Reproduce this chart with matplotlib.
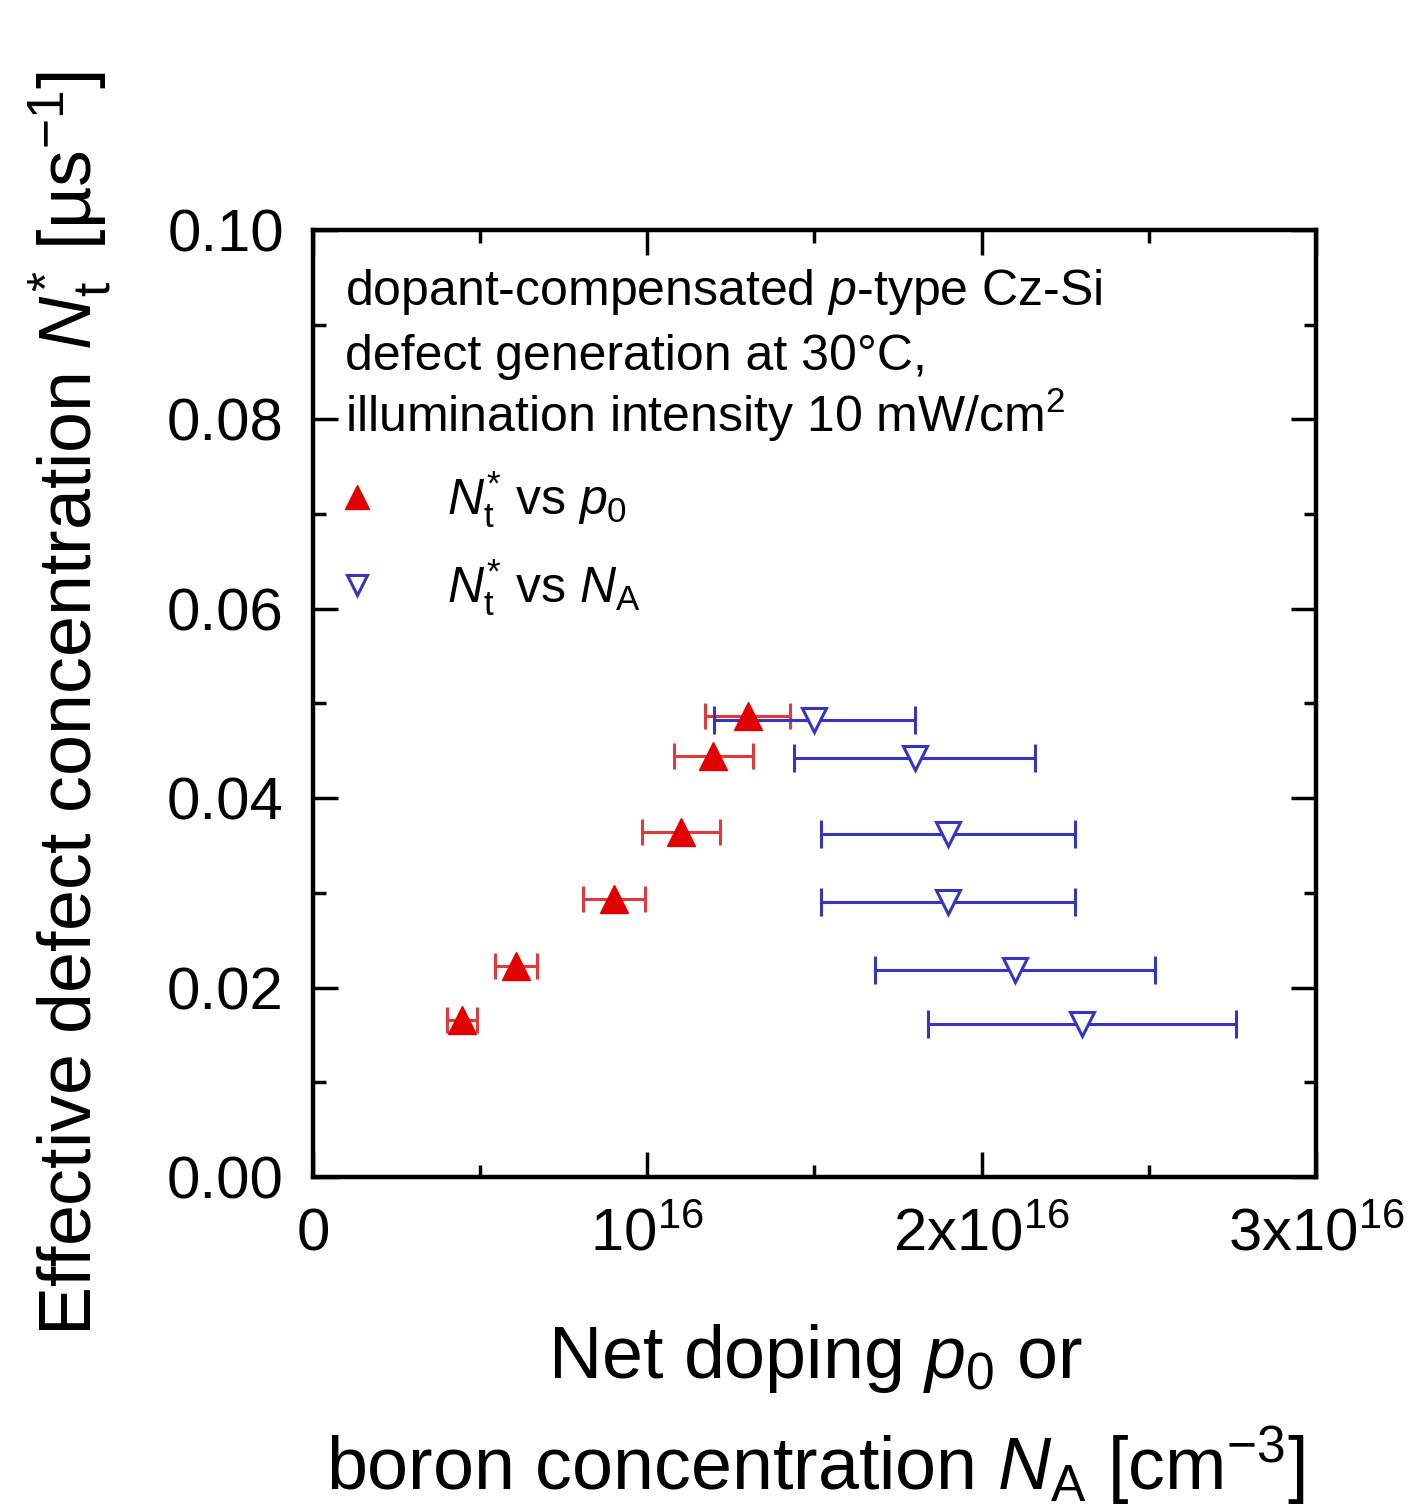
import matplotlib
matplotlib.use("Agg")
import matplotlib.pyplot as plt
import numpy as np
from matplotlib.ticker import MultipleLocator, FixedLocator, FixedFormatter

plt.rcParams['font.family'] = ['Liberation Sans', 'DejaVu Sans']
plt.rcParams['mathtext.fontset'] = 'custom'
plt.rcParams['mathtext.rm'] = 'Liberation Sans'
plt.rcParams['mathtext.it'] = 'Liberation Sans:italic'
plt.rcParams['mathtext.bf'] = 'Liberation Sans:bold'

# Data: red (N_t* vs p0) and blue (N_t* vs N_A); x in units of 1e16 cm^-3
p0 = [0.446, 0.607, 0.90, 1.10, 1.197, 1.30]
p0_err = [0.046, 0.063, 0.093, 0.117, 0.118, 0.127]
nt_p0 = [0.0166, 0.0223, 0.0294, 0.0364, 0.0445, 0.0487]

NA = [2.30, 2.10, 1.90, 1.90, 1.80, 1.50]
NA_err = [0.46, 0.42, 0.38, 0.38, 0.36, 0.30]
nt_NA = [0.0162, 0.0219, 0.0290, 0.0362, 0.0442, 0.0483]

x_ticks = [0, 1, 2, 3]
x_ticklabels = ['0', r'$10^{16}$', r'$2\mathrm{x}10^{16}$', r'$3\mathrm{x}10^{16}$']
y_ticks = [0.00, 0.02, 0.04, 0.06, 0.08, 0.10]

red = '#e00000'
red_err = '#e03a3a'
blue = '#3535c0'

fig = plt.figure(figsize=(14.18, 15.12), dpi=100)
ax = fig.add_axes([0.2207, 0.2216, 0.928 - 0.2207, 0.8479 - 0.2216])

ax.errorbar(p0, nt_p0, xerr=p0_err, fmt='none', ecolor=red_err, elinewidth=2.2,
            capsize=9.5, capthick=2.2, zorder=2)
ax.errorbar(NA, nt_NA, xerr=NA_err, fmt='none', ecolor=blue, elinewidth=2.2,
            capsize=10, capthick=2.2, zorder=2)
ax.plot(p0, nt_p0, linestyle='none', marker='^', ms=20, color=red, mec=red,
        label=r'$N_\mathrm{t}^{*}$ vs $p_0$', zorder=3)
ax.plot(NA, nt_NA, linestyle='none', marker='v', ms=17, mfc='white', mec=blue,
        mew=2.2, label=r'$N_\mathrm{t}^{*}$ vs $N_\mathrm{A}$', zorder=3)

ax.set_xlim(0, 3)
ax.set_ylim(0, 0.10)
ax.xaxis.set_major_locator(FixedLocator(x_ticks))
ax.xaxis.set_major_formatter(FixedFormatter(x_ticklabels))
ax.xaxis.set_minor_locator(MultipleLocator(0.5))
ax.yaxis.set_major_locator(FixedLocator(y_ticks))
ax.yaxis.set_major_formatter(FixedFormatter([f'{v:.2f}' for v in y_ticks]))
ax.yaxis.set_minor_locator(MultipleLocator(0.01))

ax.tick_params(which='both', direction='in', top=True, right=True, width=2.5,
               labelsize=43, color='black')
ax.tick_params(which='major', length=18)
ax.tick_params(which='minor', length=9)
ax.tick_params(axis='x', which='major', pad=22)
ax.tick_params(axis='y', which='major', pad=21)
for s in ax.spines.values():
    s.set_linewidth(3.2)

ax.set_ylabel(r'Effective defect concentration $N_\mathrm{t}^{*}$ [µs$^{-1}$]',
              fontsize=53, labelpad=38)
fig.text(0.575, 1 - 1378 / 1512, r'Net doping $p_0$ or', fontsize=53,
         ha='center', va='baseline')
fig.text(0.575, 1 - 1490 / 1512, r'boron concentration $N_\mathrm{A}$ [cm$^{-3}$]',
         fontsize=53, ha='center', va='baseline')

ann = [r'dopant-compensated $p$-type Cz-Si',
       r'defect generation at 30°C,',
       r'illumination intensity 10 mW/cm$^2$']
ys = [0.921, 0.852, 0.787]
for t, yy in zip(ann, ys):
    ax.text(0.032, yy, t, transform=ax.transAxes, fontsize=36, va='baseline', ha='left')

ax.legend(loc='upper left', bbox_to_anchor=(0.019, 0.747), frameon=False,
          fontsize=36, handlelength=1.0, handletextpad=1.3, labelspacing=0.53,
          borderpad=0, borderaxespad=0, numpoints=1, markerscale=0.85)

fig.savefig('out.png', dpi=100)
